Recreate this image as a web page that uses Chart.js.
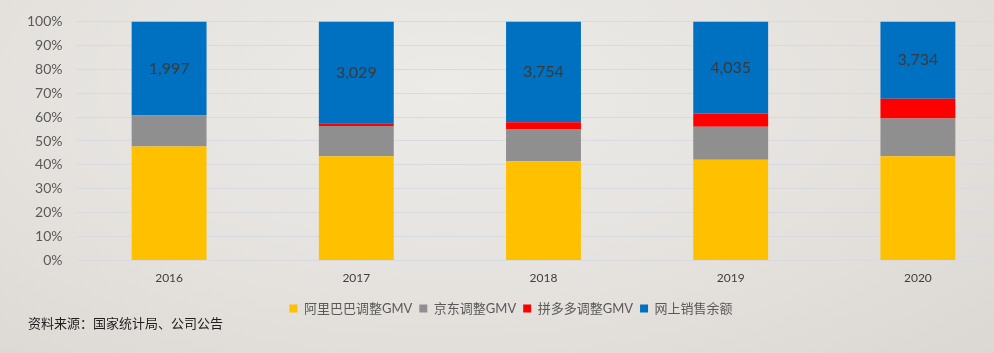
<!DOCTYPE html>
<html>
<head>
<meta charset="utf-8">
<script src="https://cdn.jsdelivr.net/npm/chart.js@4"></script>
<style>
  html, body { margin: 0; padding: 0; }
  body {
    width: 994px; height: 353px; overflow: hidden; position: relative;
    background: radial-gradient(ellipse at 45% 25%, #ecebe8 0%, #e4e1dd 60%, #dbd8d3 100%);
  }
  #wrap { position: absolute; left: 0; top: 0; width: 1022px; height: 353px; }
  #note {
    position: absolute; left: 28px; top: 313px;
    font: 13px "Noto Sans CJK SC", sans-serif; color: #1e1e1e;
  }
</style>
</head>
<body>
<div id="wrap"><canvas id="MiGrafico" width="1022" height="353"></canvas></div>
<div id="note">资料来源：国家统计局、公司公告</div>
<script>
// share of online retail sales, %
const years = ['2016', '2017', '2018', '2019', '2020'];
const alibaba = [47.7, 43.6, 41.5, 42.2, 43.6];
const jd = [13.0, 12.7, 13.3, 13.8, 15.8];
const pdd = [0, 1.1, 3.0, 5.5, 8.3];
const rest = [39.3, 42.6, 42.2, 38.5, 32.3];
const restLabels = ['1,997', '3,029', '3,754', '4,035', '3,734'];

const fontLatin = 'Lato, "Noto Sans CJK SC", sans-serif';

const restLabelPlugin = {
    id: 'restLabels',
    afterDatasetsDraw(chart) {
        const ctx = chart.ctx;
        const meta = chart.getDatasetMeta(3);
        ctx.save();
        ctx.font = '16px ' + fontLatin;
        ctx.fillStyle = '#3a3a3a';
        ctx.textAlign = 'center';
        ctx.textBaseline = 'middle';
        meta.data.forEach((bar, i) => {
            ctx.fillText(restLabels[i], bar.x, (bar.y + bar.base) / 2);
        });
        ctx.restore();
    }
};

let miCanvas = document.getElementById("MiGrafico").getContext("2d");

const myChart = new Chart(miCanvas, {
    type: "bar",
    data: {
        labels: years,
        datasets: [
            { label: "阿里巴巴调整GMV", backgroundColor: '#FFC000', data: alibaba },
            { label: "京东调整GMV", backgroundColor: '#8F8F8F', data: jd },
            { label: "拼多多调整GMV", backgroundColor: '#FF0000', data: pdd },
            { label: "网上销售余额", backgroundColor: '#0070C0', data: rest }
        ]
    },
    options: {
        responsive: false,
        animation: false,
        categoryPercentage: 1,
        barPercentage: 0.4,
        layout: { padding: { left: 10.5, right: 10.5, top: 19, bottom: 28 } },
        plugins: {
            tooltip: { enabled: false },
            legend: {
                position: 'bottom',
                labels: {
                    boxWidth: 8,
                    boxHeight: 8,
                    padding: 7,
                    color: '#595959',
                    font: { size: 13, family: fontLatin }
                }
            }
        },
        scales: {
            x: {
                stacked: true,
                grid: { display: false, drawTicks: false },
                border: { display: false },
                ticks: { color: '#404040', padding: 10, font: { size: 12, family: fontLatin } }
            },
            y: {
                stacked: true,
                min: 0,
                max: 100,
                afterFit(scale) { scale.width = 65; },
                grid: { color: '#d9dadf', lineWidth: 1, drawTicks: false },
                border: { display: false },
                ticks: {
                    stepSize: 10,
                    padding: 13,
                    color: '#595959',
                    font: { size: 14, family: fontLatin },
                    callback: v => v + '%'
                }
            }
        }
    },
    plugins: [restLabelPlugin]
});
</script>
</body>
</html>
